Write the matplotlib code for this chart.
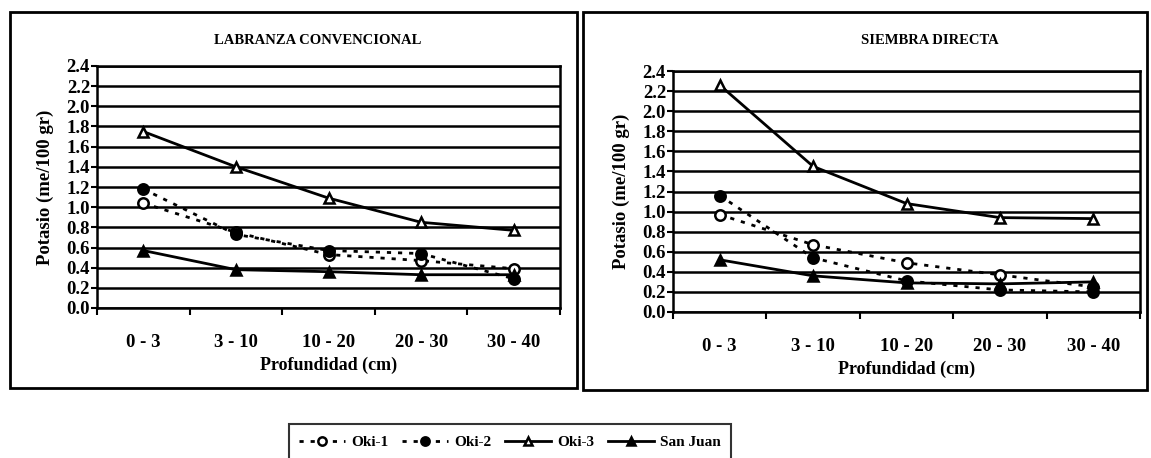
import matplotlib
matplotlib.use("Agg")
import matplotlib.pyplot as plt
from matplotlib.patches import Rectangle

categories = ["0 - 3", "3 - 10", "10 - 20", "20 - 30", "30 - 40"]
series_names = ["Oki-1", "Oki-2", "Oki-3", "San Juan"]

# LABRANZA CONVENCIONAL
lc_oki1 = [1.04, 0.75, 0.53, 0.47, 0.39]
lc_oki2 = [1.18, 0.73, 0.57, 0.54, 0.29]
lc_oki3 = [1.75, 1.40, 1.09, 0.85, 0.77]
lc_sanjuan = [0.57, 0.38, 0.36, 0.33, 0.33]

# SIEMBRA DIRECTA
sd_oki1 = [0.97, 0.67, 0.49, 0.37, 0.25]
sd_oki2 = [1.16, 0.54, 0.31, 0.22, 0.20]
sd_oki3 = [2.26, 1.45, 1.08, 0.94, 0.93]
sd_sanjuan = [0.52, 0.36, 0.29, 0.28, 0.30]

yticks = [0.0, 0.2, 0.4, 0.6, 0.8, 1.0, 1.2, 1.4, 1.6, 1.8, 2.0, 2.2, 2.4]

plt.rcParams['font.family'] = ['Liberation Serif', 'DejaVu Serif']
plt.rcParams['font.weight'] = 'bold'

W, H = 1151, 458
fig = plt.figure(figsize=(W / 100, H / 100), dpi=100)
fig.patch.set_facecolor('white')

def fx(px):
    return px / W

def fy(py):
    return 1 - py / H

styles = [
    dict(linestyle=(0, (1.5, 2.5)), marker='o', mfc='white', mec='black'),
    dict(linestyle=(0, (1.5, 2.5)), marker='o', mfc='black', mec='black'),
    dict(linestyle='-', marker='^', mfc='white', mec='black'),
    dict(linestyle='-', marker='^', mfc='black', mec='black'),
]

def draw_panel(rect, title, title_xy, data):
    ax = fig.add_axes(rect)
    xs = [i + 0.5 for i in range(len(categories))]
    for name, vals, st in zip(series_names, data, styles):
        ax.plot(xs, vals, color='black', lw=2.0, ms=7.5, mew=1.8,
                label=name, zorder=3, **st)
    ax.set_xlim(0, len(categories))
    ax.set_ylim(0, 2.4)
    ax.set_yticks(yticks)
    ax.set_yticklabels([f"{v:.1f}" for v in yticks])
    ax.set_xticks(range(len(categories) + 1))
    ax.set_xticklabels([])
    ax.set_xticks(xs, minor=True)
    ax.set_xticklabels(categories, minor=True)
    ax.tick_params(axis='x', which='minor', length=0, pad=19, labelsize=13.5)
    ax.tick_params(axis='x', which='major', length=5, width=1.5, direction='out')
    ax.tick_params(axis='y', length=4, width=1.5, direction='out', pad=1, labelsize=13.5)
    for lbl in ax.get_xticklabels(minor=True) + ax.get_yticklabels():
        lbl.set_fontweight('bold')
    ax.grid(axis='y', color='black', lw=1.8)
    ax.set_axisbelow(True)
    for sp in ax.spines.values():
        sp.set_linewidth(1.8)
        sp.set_color('black')
    ax.set_xlabel("Profundidad (cm)", fontsize=13, fontweight='bold', labelpad=4)
    ax.set_ylabel("Potasio (me/100 gr)", fontsize=13.5, fontweight='bold', labelpad=9)
    fig.text(title_xy[0], title_xy[1], title, ha='center', va='center',
             fontsize=10.5, fontweight='bold')
    return ax

ax1 = draw_panel([fx(97), fy(308), fx(560) - fx(97), fy(66) - fy(308)],
                 "LABRANZA CONVENCIONAL", (fx(318), fy(40)),
                 [lc_oki1, lc_oki2, lc_oki3, lc_sanjuan])
ax2 = draw_panel([fx(673), fy(312), fx(1140) - fx(673), fy(71) - fy(312)],
                 "SIEMBRA DIRECTA", (fx(930), fy(40)),
                 [sd_oki1, sd_oki2, sd_oki3, sd_sanjuan])

# panel boxes
fig.add_artist(Rectangle((fx(10), fy(388)), fx(577) - fx(10), fy(12) - fy(388),
                         transform=fig.transFigure, fill=False, lw=2, ec='black'))
fig.add_artist(Rectangle((fx(583), fy(390)), fx(1147) - fx(583), fy(12) - fy(390),
                         transform=fig.transFigure, fill=False, lw=2, ec='black'))

handles, labels = ax1.get_legend_handles_labels()
leg = fig.legend(handles, labels, loc='center', bbox_to_anchor=(fx(510), fy(442)),
                 ncol=4, frameon=True, fancybox=False, edgecolor='black',
                 handlelength=3.0, handletextpad=0.4, columnspacing=0.9,
                 markerscale=0.8,
                 prop={'weight': 'bold', 'size': 11}, borderpad=0.7)
leg.get_frame().set_linewidth(1.5)

fig.savefig("out.png", dpi=100, facecolor='white')
